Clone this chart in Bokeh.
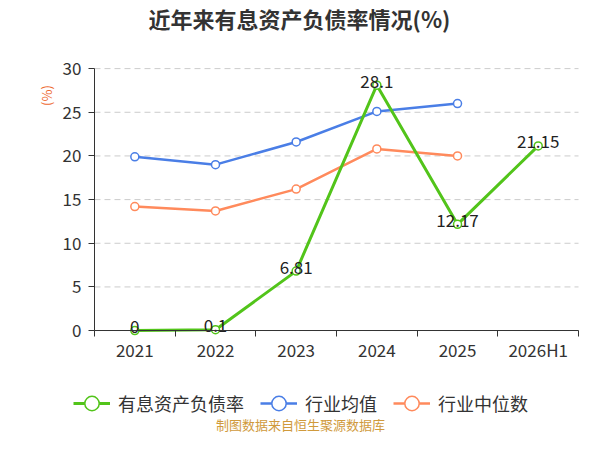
from bokeh.plotting import figure
from bokeh.models import Range1d, FixedTicker, LinearAxis, Label, Legend, LegendItem
from bokeh.core.properties import value
from bokeh.embed import file_html
from bokeh.resources import INLINE

years = ["2021", "2022", "2023", "2024", "2025", "2026H1"]
debt_ratio = [0, 0.1, 6.81, 28.1, 12.17, 21.15]
industry_mean = [19.9, 19.0, 21.6, 25.1, 26.0]
industry_median = [14.2, 13.7, 16.2, 20.8, 20.0]
y_ticks = [0, 5, 10, 15, 20, 25, 30]

FONT = "Noto Sans CJK SC"
GREEN, BLUE, ORANGE = "#52c41a", "#4a7ee6", "#ff8a5c"
n = len(years)
xs = [i + 0.5 for i in range(n)]   # centre of each year's slot

# the frame covers the whole canvas so title, legend and footer can sit inside it;
# the axes are pinned at x=0 / y=0 of the data
p = figure(x_range=Range1d(-1.165, n + 0.074), y_range=Range1d(-11.9, 37.8),
           width=584, height=434, x_axis_type=None, y_axis_type=None,
           output_backend="svg", toolbar_location=None,
           min_border_left=0, min_border_right=0, min_border_top=0, min_border_bottom=0)
p.outline_line_color = None

xaxis = LinearAxis(ticker=FixedTicker(ticks=xs, minor_ticks=list(range(n + 1))),
                   major_label_overrides=dict(zip(xs, years)),
                   fixed_location=0, bounds=(0, n))
xaxis.major_tick_line_color = None
xaxis.major_tick_out = 0
xaxis.major_tick_in = 0
xaxis.minor_tick_out = 6
xaxis.minor_tick_in = 0
xaxis.minor_tick_line_color = "#333333"
xaxis.axis_line_color = "#333333"
xaxis.major_label_standoff = 0
xaxis.major_label_text_font = FONT
xaxis.major_label_text_font_size = "17px"
xaxis.major_label_text_color = "#333333"
p.add_layout(xaxis, "below")

yaxis = LinearAxis(ticker=FixedTicker(ticks=y_ticks), fixed_location=0,
                   bounds=(min(y_ticks), max(y_ticks)))
yaxis.axis_line_color = "#333333"
yaxis.major_tick_line_color = "#333333"
yaxis.major_tick_out = 6
yaxis.major_tick_in = 0
yaxis.minor_tick_line_color = None
yaxis.major_label_standoff = 7
yaxis.major_label_text_font = FONT
yaxis.major_label_text_font_size = "17px"
yaxis.major_label_text_color = "#333333"
p.add_layout(yaxis, "left")

# dashed horizontal grid across the year slots only
p.segment(x0=0, x1=n, y0=y_ticks, y1=y_ticks, line_color="#cccccc", line_dash="6 4", line_width=1)

mean_line = p.line(xs[:len(industry_mean)], industry_mean, color=BLUE, line_width=2.5)
mean_pts = p.scatter(xs[:len(industry_mean)], industry_mean, size=8, fill_color="white",
                     line_color=BLUE, line_width=1.5)
med_line = p.line(xs[:len(industry_median)], industry_median, color=ORANGE, line_width=2.5)
med_pts = p.scatter(xs[:len(industry_median)], industry_median, size=8, fill_color="white",
                    line_color=ORANGE, line_width=1.5)
debt_line = p.line(xs, debt_ratio, color=GREEN, line_width=3)
debt_pts = p.scatter(xs, debt_ratio, size=8, fill_color="white", line_color=GREEN, line_width=1.5)

p.text(xs, debt_ratio, text=[f"{v:g}" for v in debt_ratio], text_align="center",
       text_baseline="middle", y_offset=-4, text_font=value(FONT),
       text_font_size="17px", text_color="#222222")

legend = Legend(items=[LegendItem(label="有息资产负债率", renderers=[debt_line, debt_pts]),
                       LegendItem(label="行业均值", renderers=[mean_line, mean_pts]),
                       LegendItem(label="行业中位数", renderers=[med_line, med_pts])],
                orientation="horizontal", location=(73, 13),
                glyph_width=37, glyph_height=36, label_standoff=8, spacing=16,
                padding=0, margin=0, border_line_color=None, background_fill_alpha=0,
                label_text_font=FONT, label_text_font_size="18px", label_text_color="#333333")
p.add_layout(legend)

# free texts, in pixels from the frame's bottom-left corner
p.add_layout(Label(x=299, y=417, x_units="screen", y_units="screen", text="近年来有息资产负债率情况(%)",
                   text_align="center", text_baseline="middle", text_font=FONT,
                   text_font_size="22px", text_font_style="bold", text_color="#333333"))
p.add_layout(Label(x=46, y=339, x_units="screen", y_units="screen", text="(%)", angle=1.5708,
                   text_align="center", text_baseline="middle", text_font=FONT,
                   text_font_size="13px", text_color="#ee6a30"))
p.add_layout(Label(x=300, y=10, x_units="screen", y_units="screen", text="制图数据来自恒生聚源数据库",
                   text_align="center", text_baseline="middle", text_font=FONT,
                   text_font_size="13px", text_color="#d09a3c"))

open("out.html", "w").write(file_html(p, INLINE))
